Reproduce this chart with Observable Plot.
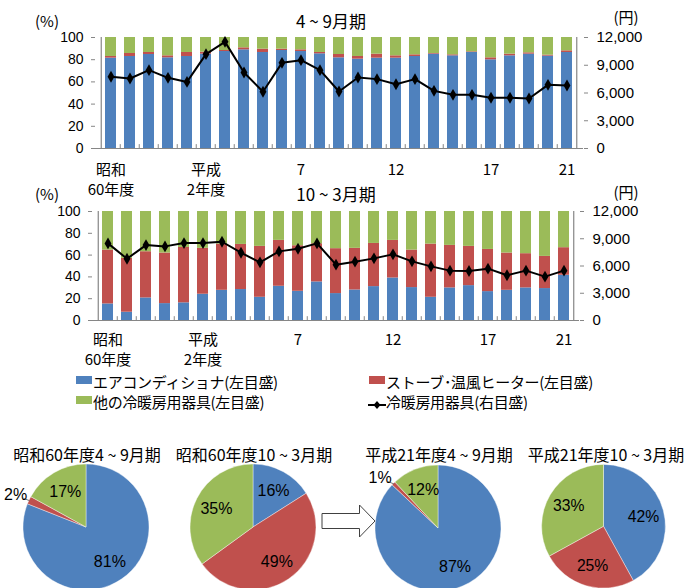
<!DOCTYPE html>
<html><head><meta charset="utf-8">
<script src="https://cdn.jsdelivr.net/npm/d3@7"></script>
<script src="https://cdn.jsdelivr.net/npm/@observablehq/plot@0.6"></script>
<style>
body{margin:0;background:#fff;}
#root{position:relative;width:688px;height:588px;overflow:hidden;background:#fff;font-family:"Noto Sans CJK JP",sans-serif;color:#000;}
.abs{position:absolute;white-space:nowrap;line-height:1;}
.c{transform:translate(-50%,-50%);}
.plotwrap{position:absolute;left:0;}
</style></head><body><div id="root"></div>
<script>
// ---- data ----
const years = ["昭和60","61","62","63","平成元","2","3","4","5","6","7","8","9","10","11","12","13","14","15","16","17","18","19","20","21"];
const labelYears = ["昭和60","2","7","12","17","21"];
const labelTexts = ["昭和\n60年度","平成\n2年度","7","12","17","21"];

// 4~9月期 (%)
const summerAircon = [81.4,82.9,84.7,81.7,82.9,85.0,87.4,88.9,86.5,88.3,87.4,85.3,81.7,80.5,81.4,81.4,82.9,85.0,83.5,86.5,79.9,83.5,85.0,83.2,86.5];
const summerStove  = [1.5,2.7,1.8,1.8,3.6,1.8,0.9,1.8,3.0,1.2,1.5,1.2,3.0,2.4,3.6,2.1,1.5,0.6,0.9,0.6,1.8,1.5,1.2,0.9,1.5];
const summerOther  = [17.1,14.4,13.5,16.5,13.5,13.2,11.7,9.3,10.5,10.5,11.1,13.5,15.3,17.1,15.0,16.5,15.6,14.4,15.6,12.9,18.3,15.0,13.8,15.9,12.0];
const summerYen    = [7750,7570,8470,7640,7200,10200,11530,8220,6130,9260,9550,8470,6160,7680,7500,6950,7500,6230,5800,5800,5480,5480,5400,6880,6810];

// 10~3月期 (%)
const winterAircon = [15.2,7.6,20.7,15.5,16.2,24.1,27.7,28.4,21.3,31.4,26.8,35.4,24.7,28.0,31.1,39.0,30.2,21.3,29.9,32.0,26.5,27.7,29.9,29.3,41.5];
const winterStove  = [49.4,49.4,42.4,46.4,50.8,42.1,42.4,41.4,46.7,42.1,41.8,35.0,41.2,38.2,39.6,34.5,34.4,48.8,39.0,36.0,38.7,34.2,31.4,29.5,25.3];
const winterOther  = [35.4,43.0,36.9,38.1,33.0,33.8,29.9,30.2,32.0,26.5,31.4,29.6,34.1,33.8,29.3,26.5,35.4,29.9,31.1,32.0,34.8,38.1,38.7,41.2,33.2];
const winterYen    = [8490,6800,8300,8160,8520,8520,8670,7460,6400,7610,7900,8490,6150,6480,6840,7280,6510,5960,5490,5450,5710,4980,5490,4830,5490];

const seriesNames = ["エアコンディショナ(左目盛)","ストーブ･温風ヒーター(左目盛)","他の冷暖房用器具(左目盛)"];
const lineName = "冷暖房用器具(右目盛)";
const colors = ["#4F81BD","#C0504D","#9BBB59"];
const pctTicks = [0,20,40,60,80,100];
const yenTicks = [0,3000,6000,9000,12000];
const yenMax = 12000;

const pieTitles = ["昭和60年度4 ~ 9月期","昭和60年度10 ~ 3月期","平成21年度4 ~ 9月期","平成21年度10 ~ 3月期"];
const pieValues = [[81,2,17],[16,49,35],[87,1,12],[42,25,33]];

// ---- helpers ----
const root = document.getElementById("root");
function addText(txt, x, y, size, extra) {
  const d = document.createElement("div");
  d.className = "abs c";
  d.textContent = txt;
  d.style.left = x + "px"; d.style.top = y + "px"; d.style.fontSize = size + "px";
  if (extra) Object.assign(d.style, extra);
  root.appendChild(d);
  return d;
}
const gray = "#868686";
const numFont = "'Liberation Sans', Arial, sans-serif";
const jpFont = "'Noto Sans CJK JP', sans-serif";

function barChart(o) {
  const W = 688, n = years.length;
  const step = (W - o.ml - o.mr) / n;
  const rows = [];
  years.forEach((yr, i) => {
    rows.push({yr, s: seriesNames[0], v: o.aircon[i]});
    rows.push({yr, s: seriesNames[1], v: o.stove[i]});
    rows.push({yr, s: seriesNames[2], v: o.other[i]});
  });
  const line = years.map((yr, i) => ({yr, yen: o.yen[i]}));
  const toPct = v => v / yenMax * 100;
  return Plot.plot({
    width: W, height: o.h,
    marginLeft: o.ml, marginRight: o.mr, marginTop: o.mt, marginBottom: o.mb,
    style: {background: "transparent", fontFamily: numFont, fontSize: "14px", color: "#000", overflow: "visible"},
    x: {type: "band", domain: years, paddingInner: 0.42, paddingOuter: 0.21, axis: null},
    y: {domain: [0, 100], axis: null},
    color: {domain: seriesNames, range: colors},
    marks: [
      Plot.barY(rows, {x: "yr", y: "v", fill: "s"}),
      Plot.ruleY([0], {stroke: gray, strokeWidth: 1.2}),
      Plot.ruleX(years.slice(1), {x: d => d, y1: 0, y2: 3.5, dx: -step / 2, stroke: gray}),
      Plot.ruleX([years[0]], {x: d => d, y1: 0, y2: 100, dx: -step / 2, stroke: gray, strokeWidth: 1.2}),
      Plot.ruleX([years[n - 1]], {x: d => d, y1: 0, y2: 100, dx: step / 2, stroke: gray, strokeWidth: 1.2}),
      Plot.axisY(pctTicks, {anchor: "left", tickSize: 4, tickPadding: 8, stroke: gray, fill: "#000", label: null, fontSize: 14}),
      Plot.axisY(yenTicks.map(toPct), {anchor: "right", tickSize: 4, tickPadding: 9, stroke: gray, fill: "#000", label: null, fontSize: 15,
        tickFormat: d => d3.format(",")(Math.round(d / 100 * yenMax))}),
      Plot.line(line, {x: "yr", y: d => toPct(d.yen), stroke: "#000", strokeWidth: 2}),
      Plot.dot(line, {x: "yr", y: d => toPct(d.yen), symbol: "diamond", fill: "#000", r: 3.6}),
      Plot.text(labelYears, {x: d => d, text: (d, i) => labelTexts[i], frameAnchor: "bottom", lineAnchor: "top",
        dy: o.labelDy, lineHeight: 1.33, fontFamily: jpFont, fontSize: 15, fill: "#000"})
    ]
  });
}

function place(el, left, top) {
  const w = document.createElement("div");
  w.className = "plotwrap";
  w.style.left = left + "px"; w.style.top = top + "px";
  w.appendChild(el);
  root.appendChild(w);
}

// ---- top chart ----
place(barChart({aircon: summerAircon, stove: summerStove, other: summerOther, yen: summerYen,
  h: 200, ml: 95, mr: 105, mt: 37, mb: 52, labelDy: 12}), 0, 0);
addText("4 ~ 9月期", 331, 20, 17);
addText("(%)", 47, 20, 15);
addText("(円)", 626, 16, 15);

// ---- bottom chart ----
place(barChart({aircon: winterAircon, stove: winterStove, other: winterOther, yen: winterYen,
  h: 200, ml: 92, mr: 109, mt: 36, mb: 55, labelDy: 10}), 0, 175);
addText("10 ~ 3月期", 336, 193, 17);
addText("(%)", 47, 193, 15);
addText("(円)", 626, 191, 15);

// ---- legend ----
function legendItem(x, y, kind, color, label) {
  const sw = document.createElement("div");
  sw.className = "abs";
  if (kind === "box") {
    Object.assign(sw.style, {left: x + "px", top: (y - 5) + "px", width: "16px", height: "8px", background: color});
  } else {
    sw.innerHTML = '<svg width="18" height="10"><line x1="0" y1="5" x2="18" y2="5" stroke="#000" stroke-width="2"/><path d="M9 1 L12.5 5 L9 9 L5.5 5 Z" fill="#000"/></svg>';
    Object.assign(sw.style, {left: (x - 1) + "px", top: (y - 6) + "px"});
  }
  root.appendChild(sw);
  const t = document.createElement("div");
  t.className = "abs";
  t.textContent = label;
  Object.assign(t.style, {left: (x + 17) + "px", top: (y - 7) + "px", fontSize: "15px", letterSpacing: "-0.3px"});
  root.appendChild(t);
}
legendItem(76, 381, "box", colors[0], seriesNames[0]);
legendItem(369, 381, "box", colors[1], seriesNames[1]);
legendItem(76, 401, "box", colors[2], seriesNames[2]);
legendItem(369, 401, "line", "#000", lineName);

// ---- pies ----
const pieCenters = [[86, 527], [253, 527], [438, 528], [605, 528]];
const R = 63;
function pieChart(vals, cx, cy) {
  const arcs = d3.pie().sort(null).value(d => d.v)(vals.map((v, i) => ({v, s: seriesNames[i], c: colors[i]})));
  const labels = arcs.map(a => {
    const mid = (a.startAngle + a.endAngle) / 2;
    const small = a.data.v < 5;
    const ex = Math.sin(mid), ey = Math.cos(mid);
    return small
      ? {small, x: ex - 0.22, y: ey + 0.1, text: a.data.v + "%", lx1: ex, ly1: ey, lx2: ex - 0.1, ly2: ey + 0.04}
      : {small, x: 0.66 * ex, y: 0.66 * ey, text: a.data.v + "%"};
  });
  const W = 172, H = 158, ox = 86, oy = cy - 430;
  return Plot.plot({
    width: W, height: H, margin: 0,
    style: {background: "transparent", overflow: "visible"},
    x: {domain: [-1, 1], range: [ox - R, ox + R], axis: null},
    y: {domain: [-1, 1], range: [oy + R, oy - R], axis: null},
    marks: [
      (index, scales) => {
        const x0 = scales.x(0), y0 = scales.y(0), r = scales.x(1) - scales.x(0);
        const arc = d3.arc().innerRadius(0).outerRadius(r);
        const g = d3.create("svg:g").attr("transform", `translate(${x0},${y0})`);
        g.selectAll("path").data(arcs).join("path")
          .attr("d", arc).attr("fill", d => d.data.c).attr("stroke", "#fff").attr("stroke-width", 0.4);
        return g.node();
      },
      Plot.link(labels.filter(d => d.small), {x1: "lx1", y1: "ly1", x2: "lx2", y2: "ly2", stroke: "#555", strokeWidth: 0.8}),
      Plot.text(labels, {x: "x", y: "y", text: "text", fontSize: 16, fill: "#000",
        fontFamily: "'Liberation Sans Narrow', 'Liberation Sans', Arial, sans-serif"})
    ]
  });
}
pieValues.forEach((vals, i) => {
  const [cx, cy] = pieCenters[i];
  place(pieChart(vals, cx, cy), cx - 86, 430);
  addText(pieTitles[i], cx + 1, 454, 16);
});

// ---- arrow ----
const arrow = document.createElement("div");
arrow.className = "abs";
arrow.style.left = "0px"; arrow.style.top = "0px";
arrow.innerHTML = '<svg width="688" height="588"><path d="M322 513.5 L359.5 513.5 L359.5 505 L375 521 L359.5 537 L359.5 528.5 L322 528.5 Z" fill="#fff" stroke="#404040" stroke-width="1"/></svg>';
root.appendChild(arrow);
</script></body></html>
